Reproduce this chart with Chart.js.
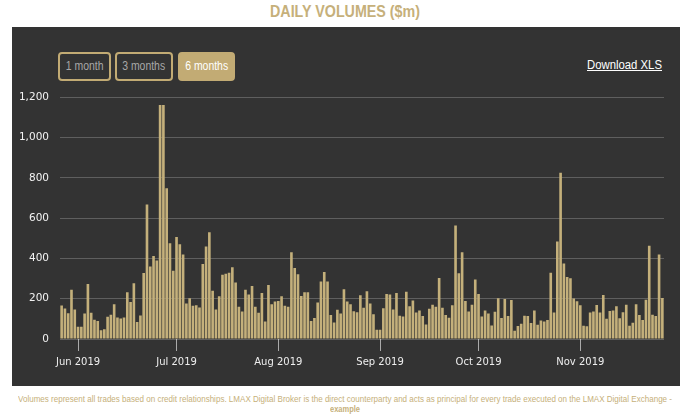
<!DOCTYPE html>
<html>
<head>
<meta charset="utf-8">
<script src="https://cdn.jsdelivr.net/npm/chart.js@4"></script>
<style>
  body { margin: 0; width: 690px; height: 414px; background: #fff; position: relative; overflow: hidden; font-family: "Liberation Sans", Arial, sans-serif; }
  .fit { position: absolute; white-space: nowrap; transform-origin: 0 0; }
  #title { top: 3px; font-size: 16px; font-weight: bold; color: #c6b07a; }
  #panel { position: absolute; left: 12px; top: 27px; width: 668px; height: 359px; background: #333333; }
  .btn { position: absolute; top: 52px; height: 29px; box-sizing: border-box; border: 2px solid #c2ab74; border-radius: 4px; color: #a8a8a8; font-size: 12px; line-height: 25px; text-align: center; }
  .btn.active { background: #c2ab74; color: #fff; }
  #dl { top: 58px; font-size: 12.5px; color: #fff; text-decoration: underline; }
  #chart-wrap { position: absolute; left: 12px; top: 80px; width: 668px; height: 300px; }
  #note { top: 394px; font-size: 9px; color: #c6b07a; }
  #note2 { top: 404px; font-size: 9px; font-weight: bold; color: #c6b07a; }
</style>
</head>
<body>
<div id="title" class="fit">DAILY VOLUMES ($m)</div>
<div id="panel"></div>
<div class="btn" style="left:58px;width:53px;"><span>1 month</span></div>
<div class="btn" style="left:115px;width:58px;"><span>3 months</span></div>
<div class="btn active" style="left:178px;width:57px;"><span>6 months</span></div>
<div id="dl" class="fit">Download XLS</div>
<div id="chart-wrap"><canvas id="volumes-chart" width="668" height="300"></canvas></div>
<div id="note" class="fit">Volumes represent all trades based on credit relationships. LMAX Digital Broker is the direct counterparty and acts as principal for every trade executed on the LMAX Digital Exchange -</div>
<div id="note2" class="fit">example</div>

<script>
// daily volumes in $m, one array per month (May 27 - Nov 26, 2019)
const mayVolumes = [166, 151, 128, 244, 146];
const junVolumes = [61, 61, 127, 273, 130, 95, 89, 44, 48, 110, 120, 173, 107, 102, 107, 232, 184, 277, 84, 117, 328, 668, 360, 412, 390, 1162, 1162, 749, 476, 339];
const julVolumes = [507, 471, 420, 176, 202, 165, 168, 156, 372, 459, 530, 240, 146, 212, 319, 324, 329, 356, 280, 160, 137, 245, 221, 263, 160, 130, 229, 87, 268, 173, 186];
const augVolumes = [189, 212, 165, 160, 431, 352, 321, 214, 232, 232, 89, 104, 181, 285, 333, 285, 119, 82, 145, 127, 247, 186, 173, 138, 133, 217, 155, 237, 176, 123, 46];
const sepVolumes = [46, 153, 224, 221, 146, 229, 115, 112, 234, 163, 191, 132, 142, 114, 72, 150, 170, 160, 303, 155, 119, 105, 168, 563, 326, 431, 189, 137, 170, 296];
const octVolumes = [224, 112, 142, 127, 67, 135, 202, 104, 199, 114, 194, 41, 64, 76, 115, 114, 79, 142, 71, 92, 87, 94, 329, 132, 484, 825, 375, 308, 302, 201, 187];
const novVolumes = [167, 66, 63, 131, 137, 169, 132, 219, 101, 139, 142, 163, 103, 133, 170, 66, 81, 173, 119, 94, 195, 463, 120, 114, 420, 204];

const months = [
  { key: '2019-05', first: 27, values: mayVolumes },
  { key: '2019-06', first: 1, values: junVolumes },
  { key: '2019-07', first: 1, values: julVolumes },
  { key: '2019-08', first: 1, values: augVolumes },
  { key: '2019-09', first: 1, values: sepVolumes },
  { key: '2019-10', first: 1, values: octVolumes },
  { key: '2019-11', first: 1, values: novVolumes }
];
const monthNames = ['Jan', 'Feb', 'Mar', 'Apr', 'May', 'Jun', 'Jul', 'Aug', 'Sep', 'Oct', 'Nov', 'Dec'];
const yTicks = [0, 200, 400, 600, 800, 1000, 1200];

const days = [];
const volumes = [];
months.forEach(m => {
  m.values.forEach((v, i) => {
    const d = m.first + i;
    days.push(m.key + '-' + String(d).padStart(2, '0'));
    volumes.push(v);
  });
});

function tickLabel(day) {
  const parts = day.split('-');
  return monthNames[parseInt(parts[1], 10) - 1] + ' ' + parts[0];
}

// squeeze the html text a bit like the original screenshot
function fit(id, targetWidth, centerX) {
  const el = document.getElementById(id);
  const w = el.getBoundingClientRect().width;
  const s = targetWidth / w;
  el.style.transform = 'scaleX(' + s + ')';
  if (centerX !== undefined) el.style.left = (centerX - targetWidth / 2) + 'px';
}
fit('title', 150, 345);
fit('note', 654, 345);
fit('note2', 30, 345);
fit('dl', 75);
document.getElementById('dl').style.left = '587px';
document.querySelectorAll('.btn span').forEach(s => {
  s.style.display = 'inline-block';
  s.style.transform = 'scaleX(0.87)';
});

const volumesChart = new Chart(document.getElementById('volumes-chart'), {
  type: 'bar',
  data: {
    labels: days,
    datasets: [{
      label: 'Volume',
      data: volumes,
      backgroundColor: '#c4b07b',
      borderWidth: 0,
      barPercentage: 0.8,
      categoryPercentage: 1.0
    }]
  },
  options: {
    responsive: false,
    animation: false,
    layout: { padding: { top: 6, right: 16, left: 0, bottom: 0 } },
    plugins: {
      legend: { display: false },
      tooltip: { enabled: false }
    },
    scales: {
      x: {
        afterFit: (scale) => { scale.height = 41; },
        afterBuildTicks: (scale) => {
          scale.ticks = scale.ticks.filter(t => days[t.value].endsWith('-01'));
        },
        border: { display: false },
        grid: {
          offset: false,
          drawOnChartArea: false,
          drawTicks: true,
          tickLength: 12,
          color: '#aaaaaa',
          lineWidth: 1
        },
        ticks: {
          autoSkip: false,
          maxRotation: 0,
          minRotation: 0,
          padding: 5,
          color: '#eeeeee',
          font: { family: 'DejaVu Sans', size: 10 },
          callback: (value) => tickLabel(days[value])
        }
      },
      y: {
        min: 0,
        max: 1200,
        afterFit: (scale) => { scale.width = 48; },
        afterBuildTicks: (scale) => {
          scale.ticks = yTicks.map(v => ({ value: v }));
        },
        border: { display: false },
        grid: {
          drawTicks: false,
          color: 'rgba(255,255,255,0.22)',
          lineWidth: 1
        },
        ticks: {
          padding: 11,
          color: '#f2f2f2',
          font: { family: 'DejaVu Sans', size: 10.5 },
          callback: (value) => value.toLocaleString('en-US')
        }
      }
    }
  }
});
</script>
</body>
</html>
